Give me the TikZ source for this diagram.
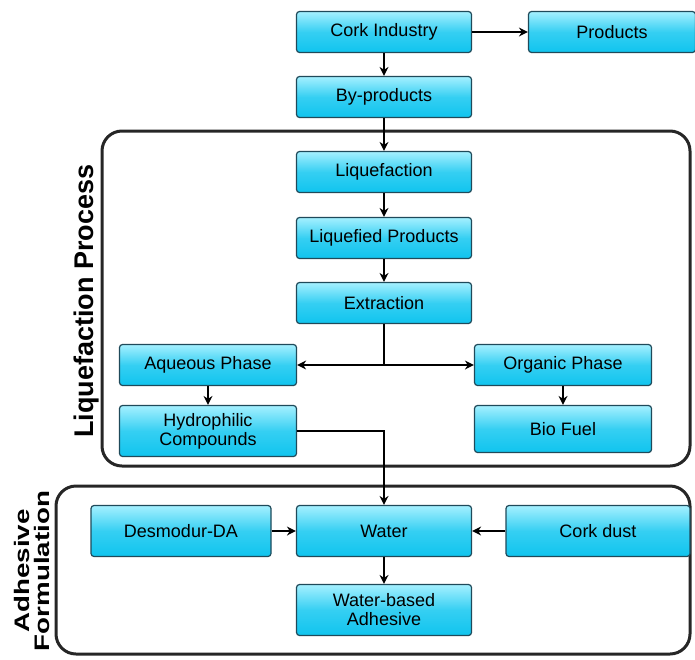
\documentclass[tikz,border=0pt]{standalone}
\usepackage{fontspec}
\setmainfont{Liberation Sans}
\usetikzlibrary{arrows.meta,positioning}
\definecolor{boxtop}{HTML}{A5F0FF}
\definecolor{boxbot}{HTML}{10C4EE}
\definecolor{boxline}{HTML}{1F4A5A}
\tikzset{
  stepbox/.style={draw=boxline, line width=1.2pt, rounded corners=3pt,
    top color=boxtop, bottom color=boxbot, middle color=boxbot!75!boxtop,
    minimum width=175pt, minimum height=41pt, align=center, inner sep=2pt,
    font=\fontsize{18}{19}\selectfont, text=black},
  conn/.style={line width=2pt, -{Stealth[length=9pt,width=9pt]}},
  plain/.style={line width=2pt},
  group/.style={draw=black!85, line width=3pt, rounded corners=20pt},
  grouplabel/.style={font=\bfseries\fontsize{27}{28}\selectfont, rotate=90, align=center, inner sep=0pt}
}
\begin{document}
\begin{tikzpicture}[x=1pt,y=-1pt]
\useasboundingbox (0,0) rectangle (695,659);
% groups
\draw[group] (102,131) rectangle (690,466);
\draw[group] (56,486) rectangle (690,654);
\node[grouplabel] (lqlabel) at (87,301) {Liquefaction Process};
\node[grouplabel, font=\bfseries\fontsize{21}{20}\selectfont\addfontfeature{FakeStretch=1.32}] (adlabel) at (32,571) {Adhesive\\Formulation};
% boxes
\node[stepbox] (cork) at (384,32) {Cork Industry};
\node[stepbox, minimum width=167pt] (prod) at (612,32) {Products};
\node[stepbox] (byp) at (384,97) {By-products};
\node[stepbox] (liq) at (384,172) {Liquefaction};
\node[stepbox] (lqp) at (384,238) {Liquefied Products};
\node[stepbox] (ext) at (384,303) {Extraction};
\node[stepbox, minimum width=177pt] (aq) at (208,365) {Aqueous Phase};
\node[stepbox, minimum width=177pt] (org) at (563,365) {Organic Phase};
\node[stepbox, minimum width=177pt, minimum height=51pt] (hyd) at (208,431) {Hydrophilic\\Compounds};
\node[stepbox, minimum width=177pt, minimum height=47pt] (bio) at (563,429) {Bio Fuel};
\node[stepbox, minimum width=180pt, minimum height=51pt] (des) at (181,531) {Desmodur-DA};
\node[stepbox, minimum height=51pt] (wat) at (384,531) {Water};
\node[stepbox, minimum width=184pt, minimum height=51pt] (dust) at (598,531) {Cork dust};
\node[stepbox, minimum height=51pt] (wba) at (384,610) {Water-based\\Adhesive};
% connectors
\draw[conn] (cork) -- (prod);
\draw[conn] (cork) -- (byp);
\draw[conn] (byp) -- (liq);
\draw[conn] (liq) -- (lqp);
\draw[conn] (lqp) -- (ext);
\coordinate (split) at (384,365);
\draw[plain] (ext.south) -- (split);
\draw[conn] (split) -- (aq.east);
\draw[conn] (split) -- (org.west);
\draw[conn] (aq) -- (hyd);
\draw[conn] (org) -- (bio);
\draw[conn] (hyd.east) -| (wat.north);
\draw[conn] (des) -- (wat);
\draw[conn] (dust) -- (wat);
\draw[conn] (wat) -- (wba);
\end{tikzpicture}
\end{document}
